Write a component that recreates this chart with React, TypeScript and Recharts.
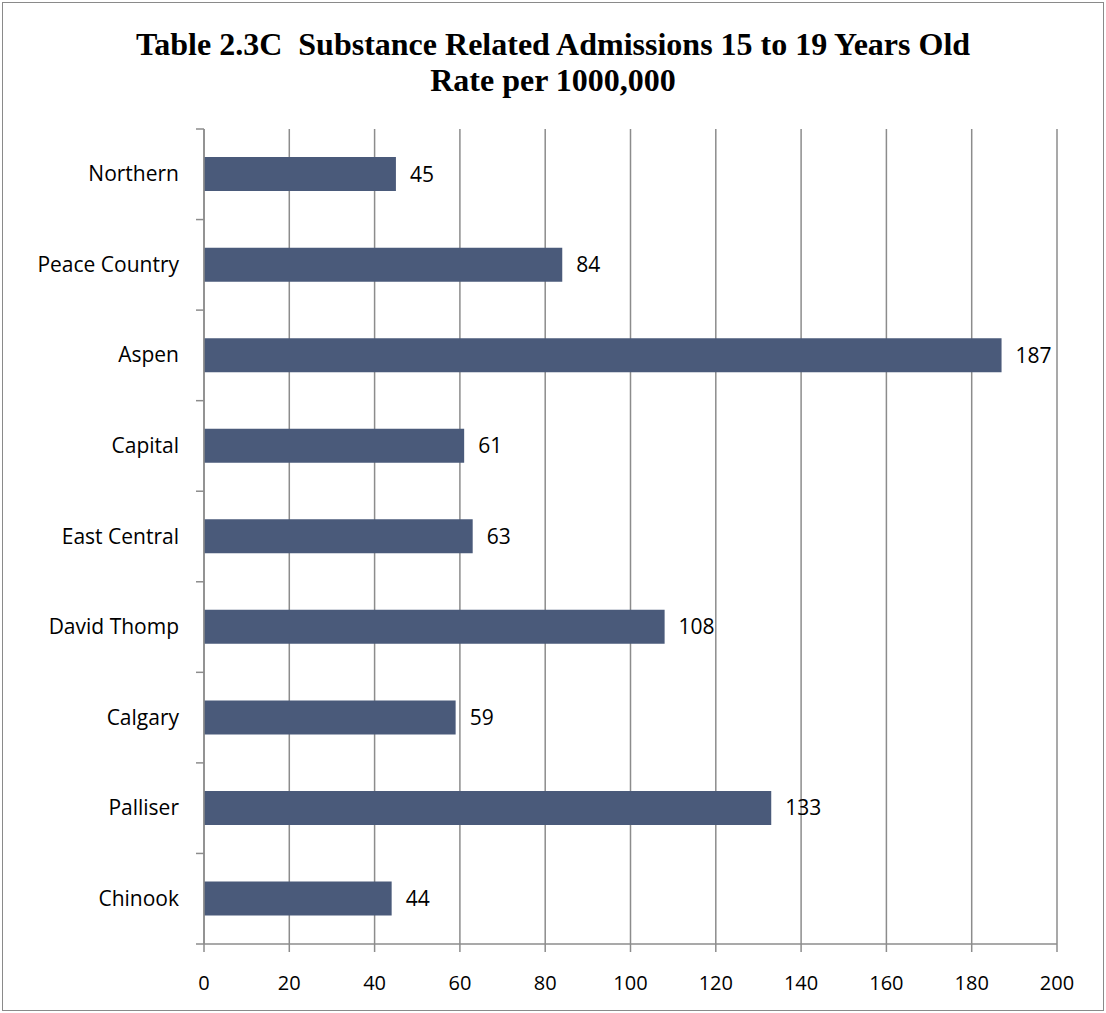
import React from "react";
import {
  BarChart,
  Bar,
  XAxis,
  YAxis,
  CartesianGrid,
  LabelList,
} from "recharts";

const regions = [
  "Northern",
  "Peace Country",
  "Aspen",
  "Capital",
  "East Central",
  "David Thomp",
  "Calgary",
  "Palliser",
  "Chinook",
];
const rates = [45, 84, 187, 61, 63, 108, 59, 133, 44];
const xTicks = [0, 20, 40, 60, 80, 100, 120, 140, 160, 180, 200];

const W = 1106;
const H = 1013;
const PLOT_LEFT = 204;
const PLOT_TOP = 129;
const PLOT_BOTTOM = 944;
const PLOT_RIGHT = 1057;
const X_AXIS_H = 50;
const BAND = (PLOT_BOTTOM - PLOT_TOP) / regions.length;

const AXIS = "#8c8c8c";
const BAR = "#4a5a7a";
const LABEL_FONT = "'Open Sans', 'DejaVu Sans', sans-serif";

const chartData = regions.map((name, i) => ({ name, rate: rates[i] }));

// category label plus the small boundary ticks Excel puts between categories
const RegionTick = (props: any) => {
  const { y, payload, index } = props;
  const top = y - BAND / 2;
  return (
    <g>
      <line x1={PLOT_LEFT - 8} x2={PLOT_LEFT} y1={top} y2={top} stroke={AXIS} strokeWidth={1.5} />
      {index === regions.length - 1 && (
        <line
          x1={PLOT_LEFT - 8}
          x2={PLOT_LEFT}
          y1={top + BAND}
          y2={top + BAND}
          stroke={AXIS}
          strokeWidth={1.5}
        />
      )}
      <text
        x={PLOT_LEFT - 25}
        y={y}
        dy={7}
        textAnchor="end"
        fontSize={21}
        fontFamily={LABEL_FONT}
        fill="#000"
      >
        {payload.value}
      </text>
    </g>
  );
};

export default function App() {
  return (
    <div
      style={{
        position: "absolute",
        left: 0,
        top: 0,
        width: W,
        height: H,
        background: "#fff",
      }}
    >
      <div
        style={{
          position: "absolute",
          left: 2,
          top: 2,
          width: W - 6,
          height: H - 6,
          border: "1.5px solid #8a8a8a",
        }}
      />
      <div
        style={{
          position: "absolute",
          left: 0,
          top: 26,
          width: W,
          textAlign: "center",
          fontFamily: "'Liberation Serif', 'Times New Roman', serif",
          fontWeight: "bold",
          fontSize: 32,
          lineHeight: "36px",
          whiteSpace: "pre",
          color: "#000",
        }}
      >
        {"Table 2.3C  Substance Related Admissions 15 to 19 Years Old\nRate per 1000,000"}
      </div>
      <div style={{ position: "absolute", left: 0, top: 0 }}>
        <BarChart
          width={W}
          height={H}
          data={chartData}
          layout="vertical"
          barCategoryGap="31%"
          margin={{
            top: PLOT_TOP,
            right: W - PLOT_RIGHT,
            bottom: H - PLOT_BOTTOM - X_AXIS_H,
            left: 0,
          }}
        >
          <CartesianGrid horizontal={false} stroke={AXIS} strokeWidth={1.5} />
          <XAxis
            type="number"
            domain={[0, 200]}
            ticks={xTicks}
            interval={0}
            height={X_AXIS_H}
            stroke={AXIS}
            strokeWidth={1.5}
            tickSize={8}
            tickMargin={24}
            tick={{ fontSize: 20, fontFamily: LABEL_FONT, fill: "#000" }}
          />
          <YAxis
            type="category"
            dataKey="name"
            width={PLOT_LEFT}
            stroke={AXIS}
            strokeWidth={1.5}
            tickLine={false}
            interval={0}
            tick={<RegionTick />}
          />
          <Bar dataKey="rate" fill={BAR} isAnimationActive={false}>
            <LabelList
              dataKey="rate"
              position="right"
              offset={14}
              fill="#000"
              fontSize={21}
              fontFamily={LABEL_FONT}
            />
          </Bar>
        </BarChart>
      </div>
    </div>
  );
}
